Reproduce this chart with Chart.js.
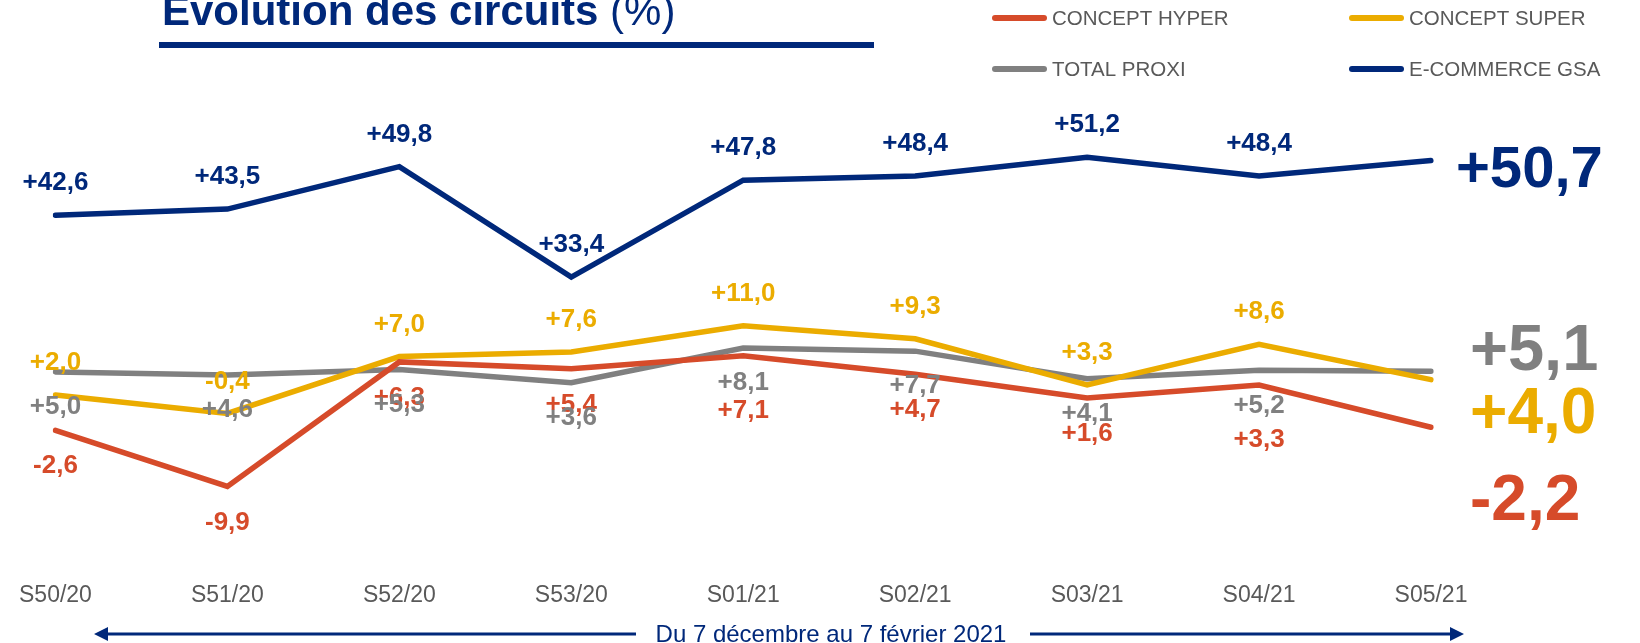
<!DOCTYPE html>
<html>
<head>
<meta charset="utf-8">
<script src="https://cdn.jsdelivr.net/npm/chart.js@4.4.1/dist/chart.umd.min.js"></script>
<style>
    html, body { margin: 0; padding: 0; background: #fff; overflow: hidden; }
    #wrap { position: relative; width: 1640px; height: 643px; }
</style>
</head>
<body>
<div id="wrap"><canvas id="circuitsChart" width="1640" height="643"></canvas></div>
<script>
// Evolution des circuits (%) - weekly data

const weeks = ['S50/20', 'S51/20', 'S52/20', 'S53/20', 'S01/21', 'S02/21', 'S03/21', 'S04/21', 'S05/21'];
const hyperValues = [-2.6, -9.9, 6.3, 5.4, 7.1, 4.7, 1.6, 3.3, -2.2];
const superValues = [2.0, -0.4, 7.0, 7.6, 11.0, 9.3, 3.3, 8.6, 4.0];
const proxiValues = [5.0, 4.6, 5.3, 3.6, 8.1, 7.7, 4.1, 5.2, 5.1];
const ecommerceValues = [42.6, 43.5, 49.8, 33.4, 47.8, 48.4, 51.2, 48.4, 50.7];

const NAVY = '#00287A';
const RED = '#D64B2A';
const YELLOW = '#EBAC00';
const GREY = '#808080';
const FONT = '"Liberation Sans", Arial, sans-serif';

function formatValue(v) {
    const s = Math.abs(v).toFixed(1).replace('.', ',');
    return (v < 0 ? '-' : '+') + s;
}

// value labels above / below each point + big value at the end of each line
const valueLabels = {
    id: 'valueLabels',
    afterDatasetsDraw(chart) {
        const ctx = chart.ctx;
        ctx.save();
        chart.data.datasets.forEach((ds, i) => {
            const meta = chart.getDatasetMeta(i);
            const last = meta.data.length - 1;
            ctx.fillStyle = ds.borderColor;
            ctx.textAlign = 'center';
            ctx.textBaseline = 'middle';
            ctx.font = 'bold 26px ' + FONT;
            meta.data.forEach((pt, j) => {
                if (j === last) return;
                const extra = ds.labelDyAt && ds.labelDyAt[j] !== undefined ? ds.labelDyAt[j] : ds.labelDy;
                ctx.fillText(formatValue(ds.data[j]), pt.x, pt.y + extra);
            });
            // big end value
            const end = meta.data[last];
            ctx.textAlign = 'left';
            ctx.font = 'bold ' + ds.endSize + 'px ' + FONT;
            ctx.fillText(formatValue(ds.data[last]), end.x + ds.endDx, end.y + ds.endDy);
        });
        ctx.restore();
    }
};

// title, legend and period arrow
const decor = {
    id: 'decor',
    afterDraw(chart) {
        const ctx = chart.ctx;
        ctx.save();

        // title
        ctx.fillStyle = NAVY;
        ctx.textBaseline = 'alphabetic';
        ctx.textAlign = 'left';
        ctx.font = 'bold 42px ' + FONT;
        const t1 = 'Evolution des circuits ';
        ctx.fillText(t1, 162, 25);
        const w1 = ctx.measureText(t1).width;
        ctx.font = '42px ' + FONT;
        ctx.fillText('(%)', 162 + w1, 25);
        ctx.fillRect(159, 42, 715, 6);

        // legend (2 x 2)
        const spots = [[992, 18], [1349, 18], [992, 69], [1349, 69]];
        ctx.font = '20.5px ' + FONT;
        ctx.textBaseline = 'middle';
        chart.data.datasets.forEach((ds, i) => {
            const [x, y] = spots[i];
            ctx.strokeStyle = ds.borderColor;
            ctx.lineWidth = 6;
            ctx.lineCap = 'round';
            ctx.beginPath();
            ctx.moveTo(x + 3, y);
            ctx.lineTo(x + 52, y);
            ctx.stroke();
            ctx.fillStyle = '#595959';
            ctx.fillText(ds.label, x + 60, y + 1);
        });

        // period arrow
        const ay = 634;
        ctx.strokeStyle = NAVY;
        ctx.fillStyle = NAVY;
        ctx.lineWidth = 3;
        ctx.lineCap = 'butt';
        ctx.beginPath();
        ctx.moveTo(104, ay); ctx.lineTo(636, ay);
        ctx.moveTo(1030, ay); ctx.lineTo(1454, ay);
        ctx.stroke();
        ctx.beginPath();
        ctx.moveTo(94, ay); ctx.lineTo(108, ay - 7); ctx.lineTo(108, ay + 7); ctx.closePath();
        ctx.moveTo(1464, ay); ctx.lineTo(1450, ay - 7); ctx.lineTo(1450, ay + 7); ctx.closePath();
        ctx.fill();
        ctx.font = '24px ' + FONT;
        ctx.textAlign = 'center';
        ctx.fillText('Du 7 d\u00e9cembre au 7 f\u00e9vrier 2021', 831, ay + 1);

        ctx.restore();
    }
};

function lineSet(label, data, color, axis, extra) {
    return Object.assign({
        label: label,
        data: data,
        yAxisID: axis,
        borderColor: color,
        backgroundColor: color,
        borderWidth: 5.5,
        borderCapStyle: 'round',
        borderJoinStyle: 'miter',
        pointRadius: 0,
        pointHoverRadius: 0,
        tension: 0,
        fill: false
    }, extra);
}

const ctx = document.getElementById('circuitsChart');

new Chart(ctx, {
    type: 'line',
    data: {
        labels: weeks,
        datasets: [
            lineSet('CONCEPT HYPER', hyperValues, RED, 'y', { labelDy: 36, labelDyAt: { 4: 55, 7: 55 }, endDx: 39, endDy: 75, endSize: 64 }),
            lineSet('CONCEPT SUPER', superValues, YELLOW, 'y', { labelDy: -32, endDx: 39, endDy: 36, endSize: 64 }),
            lineSet('TOTAL PROXI', proxiValues, GREY, 'y', { labelDy: 35, endDx: 39, endDy: -19, endSize: 65 }),
            lineSet('E-COMMERCE GSA', ecommerceValues, NAVY, 'y2', { labelDy: -32, endDx: 25, endDy: 10, endSize: 58 })
        ]
    },
    options: {
        responsive: false,
        animation: false,
        layout: {
            padding: { left: 52, right: 209, top: 80, bottom: 15 }
        },
        plugins: {
            legend: { display: false },
            tooltip: { enabled: false },
            title: { display: false }
        },
        scales: {
            x: {
                grid: { display: false, drawTicks: false },
                border: { display: false },
                ticks: {
                    color: '#595959',
                    padding: 19,
                    font: { family: FONT, size: 23 },
                    maxRotation: 0,
                    autoSkip: false
                }
            },
            y: {
                display: false,
                min: -19.78,
                max: 42.97
            },
            y2: {
                display: false,
                position: 'right',
                min: -8.97,
                max: 62.67
            }
        }
    },
    plugins: [valueLabels, decor]
});
</script>
</body>
</html>
